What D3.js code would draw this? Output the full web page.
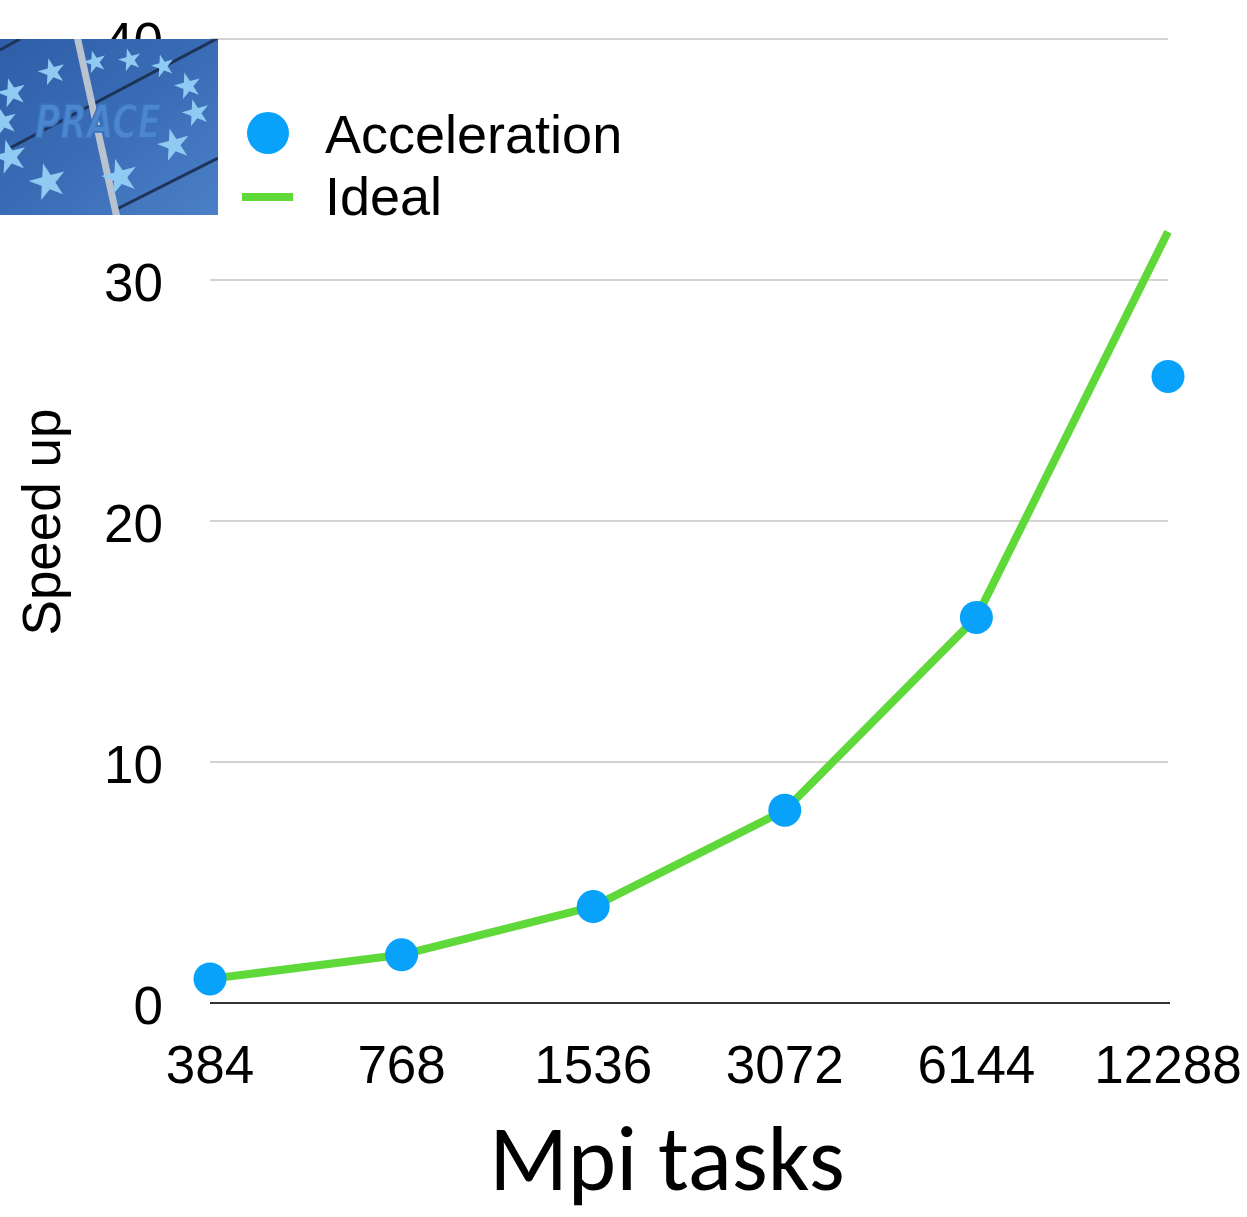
<!DOCTYPE html>
<html><head><meta charset="utf-8">
<script src="https://cdn.jsdelivr.net/npm/d3@7"></script>
<style>html,body{margin:0;padding:0;background:#fff;}svg{display:block;}</style>
</head><body>
<svg id="chart" width="1247" height="1217"></svg>
<script>
const categories = ["384", "768", "1536", "3072", "6144", "12288"];
const acceleration = [1, 2, 4, 8, 16, 26];
const ideal = [1, 2, 4, 8, 16, 32];
const yTicks = [0, 10, 20, 30, 40];
const seriesNames = ["Acceleration", "Ideal"];
const xTitle = "Mpi tasks";
const yTitle = "Speed up";

const BLUE = "#08a2fa", GREEN = "#5fd83a";
const FONT = "'Liberation Sans', Arial, Helvetica, sans-serif";
const svg = d3.select("#chart");

const x = d3.scalePoint().domain(categories).range([210, 1168]);
const y = d3.scaleLinear().domain([0, 40]).range([1003, 39]);

// gridlines
svg.append("g").selectAll("line").data(yTicks.filter(d => d > 0)).join("line")
  .attr("x1", 210).attr("x2", 1168)
  .attr("y1", d => y(d)).attr("y2", d => y(d))
  .attr("stroke", "#c4c4c4").attr("stroke-width", 1.5);
svg.append("line").attr("x1", 210).attr("x2", 1170)
  .attr("y1", y(0)).attr("y2", y(0)).attr("stroke", "#333").attr("stroke-width", 2.2);

// y tick labels
svg.append("g").selectAll("text").data(yTicks).join("text")
  .attr("x", 163).attr("y", d => y(d) + 21)
  .attr("text-anchor", "end").attr("font-family", FONT).attr("font-size", 53)
  .attr("fill", "#000").text(d => d);

// x tick labels
svg.append("g").selectAll("text").data(categories).join("text")
  .attr("x", d => x(d)).attr("y", 1083)
  .attr("text-anchor", "middle").attr("font-family", FONT).attr("font-size", 53)
  .attr("fill", "#000").text(d => d);

// axis titles
svg.append("text").attr("transform", "translate(60,522) rotate(-90)")
  .attr("text-anchor", "middle").attr("font-family", FONT).attr("font-size", 53)
  .attr("fill", "#000").text(yTitle);
svg.append("text").attr("x", 667).attr("y", 1190)
  .attr("text-anchor", "middle").attr("font-family", "Carlito, Lato, 'Open Sans', sans-serif").attr("font-size", 92)
  .attr("fill", "#000").text(xTitle);

// ideal line
const line = d3.line().x((d, i) => x(categories[i])).y(d => y(d));
svg.append("path").datum(ideal).attr("d", line)
  .attr("fill", "none").attr("stroke", GREEN).attr("stroke-width", 8)
  .attr("stroke-linejoin", "round");

// acceleration points
svg.append("g").selectAll("circle").data(acceleration).join("circle")
  .attr("cx", (d, i) => x(categories[i])).attr("cy", d => y(d)).attr("r", 16.5)
  .attr("fill", BLUE);

// legend
svg.append("circle").attr("cx", 268).attr("cy", 133).attr("r", 21).attr("fill", BLUE);
svg.append("line").attr("x1", 242).attr("x2", 293).attr("y1", 197).attr("y2", 197)
  .attr("stroke", GREEN).attr("stroke-width", 8);
svg.append("text").attr("x", 325).attr("y", 153).attr("font-family", FONT).attr("font-size", 54)
  .attr("fill", "#000").text(seriesNames[0]);
svg.append("text").attr("x", 325).attr("y", 215).attr("font-family", FONT).attr("font-size", 54)
  .attr("fill", "#000").text(seriesNames[1]);

// PRACE logo (decorative)
const logo = svg.append("g");
const defs = svg.append("defs");
const grad = defs.append("linearGradient").attr("id", "lg").attr("x1", 0).attr("y1", 0).attr("x2", 1).attr("y2", 1);
grad.append("stop").attr("offset", 0).attr("stop-color", "#2f5ea8");
grad.append("stop").attr("offset", 0.5).attr("stop-color", "#3a6cb6");
grad.append("stop").attr("offset", 1).attr("stop-color", "#4a80c6");
const clip = defs.append("clipPath").attr("id", "lc");
clip.append("rect").attr("x", 0).attr("y", 39).attr("width", 218).attr("height", 176);
logo.attr("clip-path", "url(#lc)");
logo.append("rect").attr("x", 0).attr("y", 39).attr("width", 218).attr("height", 176).attr("fill", "url(#lg)");
const lines = [[0, 50, 20, 39], [10, 148, 218, 38], [115, 210, 218, 158]];
logo.selectAll("line.d").data(lines).join("line")
  .attr("x1", d => d[0]).attr("y1", d => d[1]).attr("x2", d => d[2]).attr("y2", d => d[3])
  .attr("stroke", "#1d3358").attr("stroke-width", 3);
logo.append("line").attr("x1", 77).attr("y1", 36).attr("x2", 117).attr("y2", 218)
  .attr("stroke", "#b9c3cf").attr("stroke-width", 7);
const stars = [[95, 62, 160], [130, 60, 160], [163, 66, 160], [52, 72, 230], [188, 86, 220],
  [12, 93, 260], [196, 113, 230], [3, 122, 260], [174, 145, 330], [10, 157, 360],
  [48, 182, 420], [120, 177, 400]];
logo.selectAll("path.s").data(stars).join("path")
  .attr("transform", d => `translate(${d[0]},${d[1]}) rotate(-15)`)
  .attr("d", d => d3.symbol(d3.symbolStar, d[2])())
  .attr("fill", "#8fcaf2");
logo.append("text").attr("x", 98).attr("y", 136).attr("text-anchor", "middle")
  .attr("font-family", "'DejaVu Sans', sans-serif").attr("font-weight", "bold").attr("font-style", "italic")
  .attr("font-size", 42).attr("fill", "#4b86cf").attr("stroke", "#3a70b8").attr("stroke-width", 1.5)
  .attr("transform", "translate(98,120) scale(0.82,1.1) translate(-98,-120)")
  .text("PRACE");
</script>
</body></html>
